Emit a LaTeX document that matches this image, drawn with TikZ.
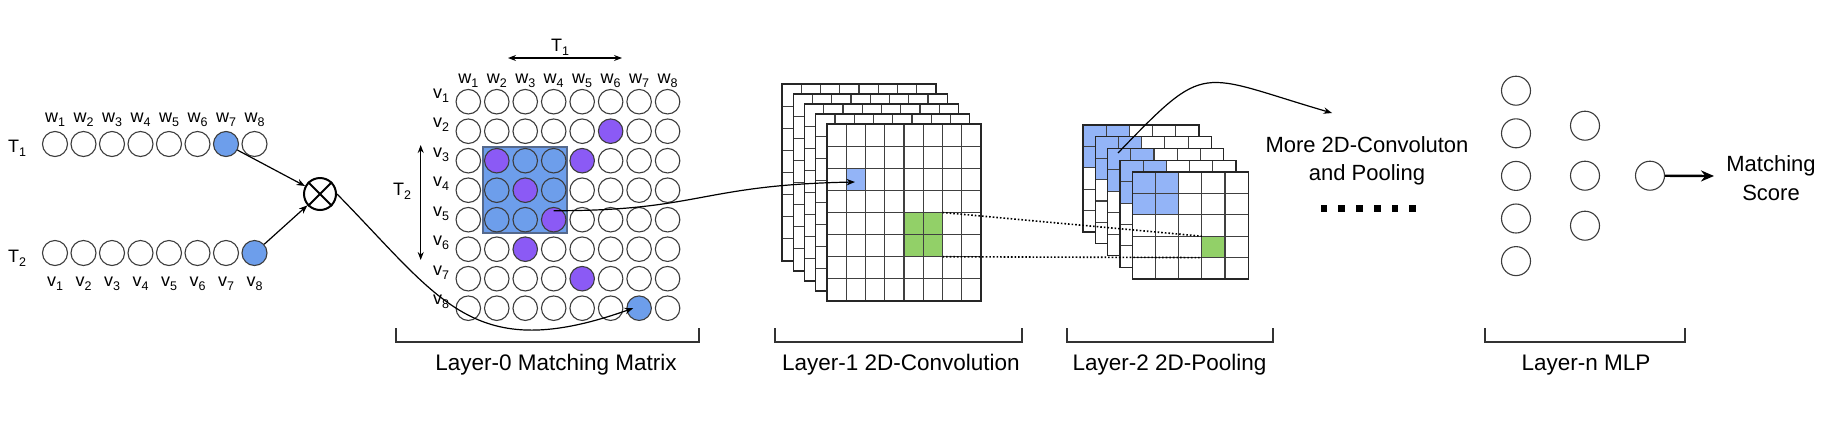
\documentclass[tikz,border=0pt]{standalone}
\usepackage{fontspec}
\setmainfont{Liberation Sans}
\usetikzlibrary{arrows.meta,calc}
\definecolor{blu}{RGB}{109,158,235}
\definecolor{purp}{RGB}{139,90,245}
\definecolor{lblu}{RGB}{147,180,247}
\definecolor{grn}{RGB}{146,208,104}
\definecolor{cedge}{RGB}{60,60,60}
\definecolor{rectedge}{RGB}{85,105,140}
\newcommand{\sbs}[2]{#1\raisebox{-4pt}{\fontsize{12.5}{12.5}\selectfont #2}}
\newcommand{\setcc}[2]{\expandafter\def\csname pcc#1\endcsname{#2}}
\setcc{26}{purp}\setcc{32}{purp}\setcc{35}{purp}\setcc{43}{purp}
\setcc{54}{purp}\setcc{63}{purp}\setcc{75}{purp}\setcc{87}{blu}
\begin{document}
\begin{tikzpicture}[x=1pt,y=-1pt,
  seq/.style={circle, draw=cedge, line width=1.1pt, minimum size=25pt, inner sep=0pt},
  mcell/.style={circle, draw=cedge, line width=1.1pt, minimum size=24.5pt, inner sep=0pt},
  mlp/.style={circle, draw=cedge, line width=1.1pt, minimum size=29pt, inner sep=0pt},
  lab/.style={font=\fontsize{18}{20}\selectfont, inner sep=0pt, anchor=base},
  big/.style={font=\fontsize{22.5}{27}\selectfont, inner sep=0pt, anchor=base},
  mid/.style={font=\fontsize{22}{27}\selectfont, inner sep=0pt, anchor=base},
  conn/.style={line width=1.2pt, -{Stealth[length=8.5pt,width=6.5pt]}},
  dbl/.style={line width=1.1pt, {Stealth[length=8pt,width=6pt]}-{Stealth[length=8pt,width=6pt]}},
  gl/.style={line width=1.1pt, draw=black!75},
  gb/.style={line width=1.4pt, draw=black!85},
  brk/.style={line width=1.3pt, draw=black!80},
  dotl/.style={line width=1.6pt, dash pattern=on 1.6pt off 2pt}]
\fill[white] (0,0) rectangle (1830,424);
\useasboundingbox (0,0) rectangle (1830,424);

% ---------- input sequences ----------
\node[lab] (T1l) at (17,152.7) {\sbs{T}{1}};
\node[lab] (T2l) at (17,262.7) {\sbs{T}{2}};
\foreach \i in {1,...,8} {
  \pgfmathsetmacro\xx{55+(\i-1)*28.5}
  \ifnum\i=7 \def\wf{blu}\else\def\wf{none}\fi
  \ifnum\i=8 \def\vf{blu}\else\def\vf{none}\fi
  \node[seq,fill=\wf] (w\i) at (\xx,144) {};
  \node[seq,fill=\vf] (v\i) at (\xx,253) {};
  \node[lab] (wl\i) at (\xx,122.7) {\sbs{w}{\i}};
  \node[lab] (vl\i) at (\xx,286.7) {\sbs{v}{\i}};
}
\node[circle, draw=black, line width=2pt, minimum size=32pt, inner sep=0pt] (ot) at (320,194) {};
\draw[line width=2pt] (ot.north west) -- (ot.south east);
\draw[line width=2pt] (ot.north east) -- (ot.south west);
\draw[conn] (w7) -- (ot);
\draw[conn] (v8) -- (ot);

% ---------- matching matrix ----------
\fill[blu, draw=rectedge, line width=1.1pt] (483,147) rectangle (567,233);
\foreach \r in {1,...,8} {
  \pgfmathsetmacro\yy{101.7+(\r-1)*29.5}
  \pgfmathsetmacro\yb{\yy-3.5}
  \node[lab] (mv\r) at (441,\yb) {\sbs{v}{\r}};
  \foreach \c in {1,...,8} {
    \pgfmathsetmacro\xx{468.3+(\c-1)*28.47}
    \ifcsname pcc\r\c\endcsname \edef\mf{\csname pcc\r\c\endcsname}\else\def\mf{none}\fi
    \node[mcell,fill=\mf] (m\r\c) at (\xx,\yy) {};
  }
}
\foreach \c in {1,...,8} {
  \pgfmathsetmacro\xx{468.3+(\c-1)*28.47}
  \node[lab] (mw\c) at (\xx,83.5) {\sbs{w}{\c}};
}
\coordinate (t1a) at (508,58);
\coordinate (t1b) at (622,58);
\draw[dbl] (t1a) -- (t1b);
\node[lab] (mT1) at (560,51.7) {\sbs{T}{1}};
\coordinate (t2a) at (420.7,145);
\coordinate (t2b) at (420.7,260);
\draw[dbl] (t2a) -- (t2b);
\node[lab] (mT2) at (402,195) {\sbs{T}{2}};

% ---------- convolution layers ----------
\foreach \k in {0,...,4} {
  \pgfmathsetmacro\ox{782+11.25*\k}
  \pgfmathsetmacro\oy{84+10*\k}
  \fill[white] (\ox,\oy) rectangle ++(154,177);
  \ifnum\k=4
    \fill[lblu] ({\ox+19.25},{\oy+2*22.125}) rectangle ++(19.25,22.125);
    \fill[grn] ({\ox+4*19.25},{\oy+4*22.125}) rectangle ++(38.5,44.25);
  \fi
  \foreach \i in {1,...,7} \draw[gl] ({\ox+\i*19.25},\oy) -- ++(0,177);
  \foreach \j in {1,...,7} \draw[gl] (\ox,{\oy+\j*22.125}) -- ++(154,0);
  \draw[gb] (\ox,\oy) rectangle ++(154,177);
}
\coordinate (cbl) at (855,182);
\coordinate (cgTR) at (942.5,212.5);
\coordinate (cgBR) at (942.5,256.75);

% ---------- pooling layers ----------
\foreach \k in {0,...,4} {
  \pgfmathsetmacro\ox{1083+12.3*\k}
  \pgfmathsetmacro\oy{125+11.75*\k}
  \fill[white] (\ox,\oy) rectangle ++(116,107);
  \fill[lblu] (\ox,\oy) rectangle ++(46.4,42.8);
  \ifnum\k=4 \fill[grn] ({\ox+3*23.2},{\oy+3*21.4}) rectangle ++(23.2,21.4); \fi
  \foreach \i in {1,...,4} \draw[gl] ({\ox+\i*23.2},\oy) -- ++(0,107);
  \foreach \j in {1,...,4} \draw[gl] (\ox,{\oy+\j*21.4}) -- ++(116,0);
  \draw[gb] (\ox,\oy) rectangle ++(116,107);
}
\coordinate (pgTL) at (1201.8,236.2);
\coordinate (pgBL) at (1201.8,257.6);
\coordinate (pst) at (1118,153);

% ---------- more conv text ----------
\node[mid] (more1) at (1367,152.3) {More 2D-Convoluton};
\node[mid] (more2) at (1367,180) {and Pooling};
\coordinate (mtip) at (1332,113);
\foreach \k in {0,...,5} \fill ({1320.7+17.7*\k},205) rectangle ++(6.7,6.7);

% ---------- MLP ----------
\foreach \i in {1,...,5} \node[mlp] (h\i) at (1516,{90.7+42.6*(\i-1)}) {};
\foreach \i in {1,...,3} \node[mlp] (g\i) at (1585,{125.7+50*(\i-1)}) {};
\node[mlp] (o1) at (1650,175.7) {};
\coordinate (msa) at (1714,176);
\draw[line width=2.4pt, -{Stealth[length=13pt,width=11pt]}] (o1) -- (msa);
\node[mid] (ms1) at (1771,171.7) {Matching};
\node[mid] (ms2) at (1771,200) {Score};

% ---------- connectors over everything ----------
\draw[conn] (ot.east) .. controls (442,301) and (473,365) .. ([xshift=-6pt]m87.center);
\draw[conn] ([yshift=9pt]m54.center) .. controls (700,211) and (700,185) .. (cbl);
\draw[dotl] (cgTR) -- (pgTL);
\draw[dotl] (cgBR) -- (pgBL);
\draw[conn] (pst) .. controls (1208,59.4) and (1197.6,73.8) .. (mtip);

% ---------- brackets ----------
\draw[brk] (396,328) -- (396,342) -- (699,342) -- (699,328);
\draw[brk] (775,328) -- (775,342) -- (1022,342) -- (1022,328);
\draw[brk] (1067,328) -- (1067,342) -- (1273,342) -- (1273,328);
\draw[brk] (1485,328) -- (1485,342) -- (1685,342) -- (1685,328);
\node[big] (b0) at (556,370.7) {Layer-0 Matching Matrix};
\node[big] (b1) at (901,370.7) {Layer-1 2D-Convolution};
\node[big] (b2) at (1169.5,370.7) {Layer-2 2D-Pooling};
\node[big] (bn) at (1586,370.7) {Layer-n MLP};
\end{tikzpicture}
\end{document}
